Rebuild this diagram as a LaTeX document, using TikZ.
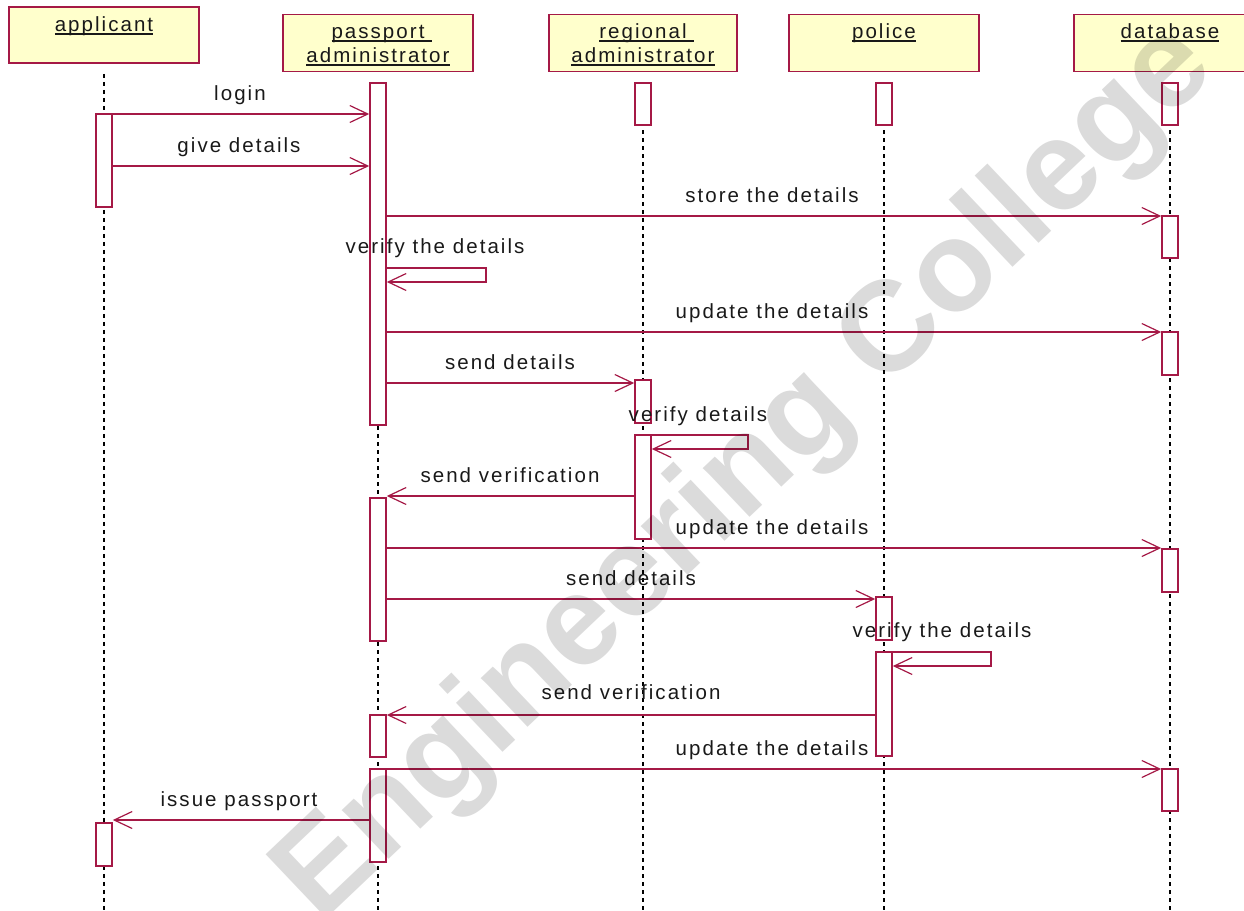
\documentclass[tikz,border=0pt]{standalone}
\usepackage{fontspec}
\setmainfont{Liberation Sans}
\newfontfamily\lblfont[LetterSpace=10]{Liberation Sans}
\usetikzlibrary{arrows.meta}
\definecolor{umlred}{RGB}{165,25,70}
\definecolor{umlfill}{RGB}{255,255,204}
\definecolor{ink}{RGB}{25,25,25}
% underlined header text, rule set just below the baseline
\newlength\ulw
\newcommand\hdrul[1]{\settowidth{\ulw}{#1}\makebox[0pt][l]{\rule[-3.5pt]{\ulw}{1.3pt}}#1}
% activation bar: name, x, top, bottom
\newcommand\activation[4]{\node[act, minimum height={#4-#3}] (#1) at (#2,{(#3+#4)/2}) {};}

\begin{document}
\begin{tikzpicture}[x=1pt,y=-1pt,
  head/.style={draw=umlred, line width=1.8pt, fill=umlfill, minimum width=190pt, minimum height=57pt, inner sep=0pt},
  htext/.style={anchor=base, inner sep=0pt, text=ink, font=\lblfont\fontsize{20.5}{24}\selectfont},
  act/.style={draw=umlred, line width=1.6pt, fill=white, minimum width=16pt, inner sep=0pt},
  life/.style={draw=black, line width=1.5pt, dash pattern=on 4pt off 4pt},
  msg/.style={draw=umlred, line width=1.4pt, -{Straight Barb[length=18pt,width=17pt,line width=1.2pt]}},
  mlabel/.style={anchor=base, inner sep=0pt, text=ink, font=\lblfont\fontsize{20.5}{24}\selectfont},
]
\useasboundingbox (0,0) rectangle (1244,910);

% object heads
\node[head, minimum height=56pt] (hA) at (104,35) {};
\node[head] (hB) at (378,43) {};
\node[head, minimum width=188pt] (hC) at (643,43) {};
\node[head] (hD) at (884,43) {};
\node[head, minimum width=192pt] (hE) at (1170,43) {};

\node[htext] (tA) at (104,31) {\hdrul{applicant}};
\node[htext] (tB1) at (378,38) {\hdrul{passport\ }};
\node[htext] (tB2) at (378,62) {\hdrul{administrator}};
\node[htext] (tC1) at (643,38) {\hdrul{regional\ }};
\node[htext] (tC2) at (643,62) {\hdrul{administrator}};
\node[htext] (tD) at (884,38) {\hdrul{police}};
\node[htext] (tE) at (1170,38) {\hdrul{database}};

% lifelines
\foreach \h in {hA,hB,hC,hD,hE}
  \draw[life] ([yshift=-10pt]\h.south) -- (\h.south |- 0,910);

% activation bars
\activation{a1}{104}{114}{207}
\activation{a2}{104}{823}{866}
\activation{p1}{378}{83}{425}
\activation{p2}{378}{498}{641}
\activation{p3}{378}{715}{757}
\activation{p4}{378}{769}{862}
\activation{r1}{643}{83}{125}
\activation{r2}{643}{380}{423}
\activation{r3}{643}{435}{539}
\activation{c1}{884}{83}{125}
\activation{c2}{884}{597}{640}
\activation{c3}{884}{652}{756}
\activation{d1}{1170}{83}{125}
\activation{d2}{1170}{216}{258}
\activation{d3}{1170}{332}{375}
\activation{d4}{1170}{549}{592}
\activation{d5}{1170}{769}{811}

% loop corners of the self messages
\coordinate (lp) at (486,282);
\coordinate (lr) at (748,449);
\coordinate (lc) at (991,666);

% messages
\draw[msg] (a1.east |- 0,114) -- (p1.west |- 0,114);
\node[mlabel] (m1) at (240,100) {login};
\draw[msg] (a1.east |- 0,166) -- (p1.west |- 0,166);
\node[mlabel] (m2) at (239,152) {give details};
\draw[msg] (p1.east |- 0,216) -- (d2.west |- 0,216);
\node[mlabel] (m3) at (772,202) {store the details};
\draw[msg] (p1.east |- 0,268) -| (lp) -- (p1.east |- lp);
\node[mlabel] (m4) at (435,253) {verify the details};
\draw[msg] (p1.east |- 0,332) -- (d3.west |- 0,332);
\node[mlabel] (m5) at (772,318) {update the details};
\draw[msg] (p1.east |- 0,383) -- (r2.west |- 0,383);
\node[mlabel] (m6) at (510,369) {send details};
\draw[msg] (r3.east |- 0,435) -| (lr) -- (r3.east |- lr);
\node[mlabel] (m7) at (698,421) {verify details};
\draw[msg] (r3.west |- 0,496) -- (p2.east |- 0,496);
\node[mlabel] (m8) at (510,482) {send verification};
\draw[msg] (p2.east |- 0,548) -- (d4.west |- 0,548);
\node[mlabel] (m9) at (772,534) {update the details};
\draw[msg] (p2.east |- 0,599) -- (c2.west |- 0,599);
\node[mlabel] (m10) at (631,585) {send details};
\draw[msg] (c3.east |- 0,652) -| (lc) -- (c3.east |- lc);
\node[mlabel] (m11) at (942,637) {verify the details};
\draw[msg] (c3.west |- 0,715) -- (p3.east |- 0,715);
\node[mlabel] (m12) at (631,699) {send verification};
\draw[msg] (p4.east |- 0,769) -- (d5.west |- 0,769);
\node[mlabel] (m13) at (772,755) {update the details};
\draw[msg] (p4.west |- 0,820) -- (a2.east |- 0,820);
\node[mlabel] (m14) at (239,806) {issue passport};

% watermark
\node[rotate=43.5, text=black, opacity=0.14, inner sep=0pt,
      font=\fontsize{128}{128}\selectfont\bfseries] (wm) at (747,475) {Engineering College};
\end{tikzpicture}
\end{document}
